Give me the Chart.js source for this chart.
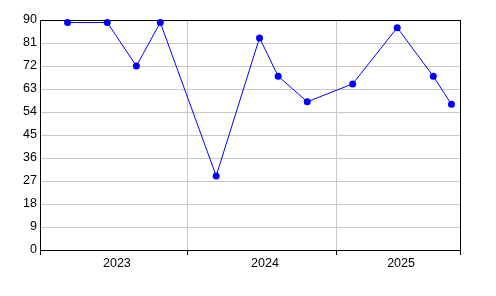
<!DOCTYPE html>
<html>
<head>
<meta charset="utf-8">
<script src="https://cdn.jsdelivr.net/npm/chart.js@4/dist/chart.umd.min.js"></script>
<style>
  html, body { margin: 0; padding: 0; background: #fff; }
  #wrap { width: 496px; height: 296px; }
</style>
</head>
<body>
<div id="wrap"><canvas id="mychart" width="496" height="296"></canvas></div>
<script>
// data
var dates = ['2023-03-10', '2023-06-16', '2023-08-27', '2023-10-25',
             '2024-03-11', '2024-06-26', '2024-08-11', '2024-10-22',
             '2025-02-11', '2025-06-01', '2025-08-29', '2025-10-13'];
var values = [89, 89, 72, 89, 29, 83, 68, 58, 65, 87, 68, 57];
var years = ['2023', '2024', '2025'];
var axisStart = '2023-01-01';
var axisEnd = '2025-11-03';
var yMax = 90;
var yStep = 9;

var xMin = Date.parse(axisStart);
var xMax = Date.parse(axisEnd);

var points = dates.map(function(d, i) {
    return { x: Date.parse(d), y: values[i] };
});

// year boundaries (grid lines + tick marks) and year centres (labels)
var boundaries = [xMin];
var labelTicks = [];
years.forEach(function(y) {
    var s = Math.max(Date.parse(y + '-01-01'), xMin);
    var e = Math.min(Date.parse((+y + 1) + '-01-01'), xMax);
    labelTicks.push({ value: (s + e) / 2, year: y });
    if (e < xMax) boundaries.push(e);
});
boundaries.push(xMax);

function isBoundary(v) {
    return boundaries.indexOf(v) >= 0;
}

var frame = {
    id: 'frame',
    beforeDatasetsDraw: function(chart) {
        var a = chart.chartArea, c = chart.ctx;
        c.save();
        c.strokeStyle = '#000';
        c.lineWidth = 1;
        c.strokeRect(a.left + 0.5, a.top + 0.5, a.right - a.left, a.bottom - a.top);
        c.restore();
    }
};

var font = { family: '"Liberation Sans Narrow", "Liberation Sans", Arial, sans-serif', size: 12.5 };

var ctx = document.getElementById('mychart').getContext('2d');
var myChart = new Chart(ctx, {
    type: 'line',
    data: {
        datasets: [{
            data: points,
            borderColor: '#0000ff',
            backgroundColor: '#0000ff',
            borderWidth: 1,
            pointRadius: 3.5,
            pointBorderWidth: 0,
            pointBackgroundColor: '#0000ff',
            tension: 0,
            fill: false,
            clip: false
        }]
    },
    options: {
        responsive: false,
        animation: false,
        devicePixelRatio: 1,
        layout: { padding: { left: 0, top: 20, right: 36, bottom: 0 } },
        plugins: {
            legend: { display: false },
            tooltip: { enabled: false }
        },
        scales: {
            x: {
                type: 'linear',
                min: xMin,
                max: xMax,
                afterBuildTicks: function(scale) {
                    var t = boundaries.map(function(v) { return { value: v }; });
                    labelTicks.forEach(function(l) { t.push({ value: l.value }); });
                    t.sort(function(a, b) { return a.value - b.value; });
                    scale.ticks = t;
                },
                afterFit: function(scale) { scale.height = 46; },
                ticks: {
                    autoSkip: false,
                    maxRotation: 0,
                    padding: 1,
                    labelOffset: 3,
                    color: '#000',
                    font: font,
                    callback: function(v) {
                        for (var i = 0; i < labelTicks.length; i++) {
                            if (labelTicks[i].value === v) return labelTicks[i].year;
                        }
                        return '';
                    }
                },
                grid: {
                    color: function(c) {
                        return c.tick && isBoundary(c.tick.value) ? '#c8c8c8' : 'rgba(0,0,0,0)';
                    },
                    tickColor: function(c) {
                        return c.tick && isBoundary(c.tick.value) ? '#000' : 'rgba(0,0,0,0)';
                    },
                    tickLength: 5
                },
                border: { color: '#000', width: 1 }
            },
            y: {
                min: 0,
                max: yMax,
                afterFit: function(scale) { scale.width = 40; },
                ticks: {
                    stepSize: yStep,
                    padding: 3,
                    color: '#000',
                    font: font
                },
                grid: {
                    color: '#c8c8c8',
                    drawTicks: false
                },
                border: { color: '#000', width: 1 }
            }
        }
    },
    plugins: [frame]
});
</script>
</body>
</html>
